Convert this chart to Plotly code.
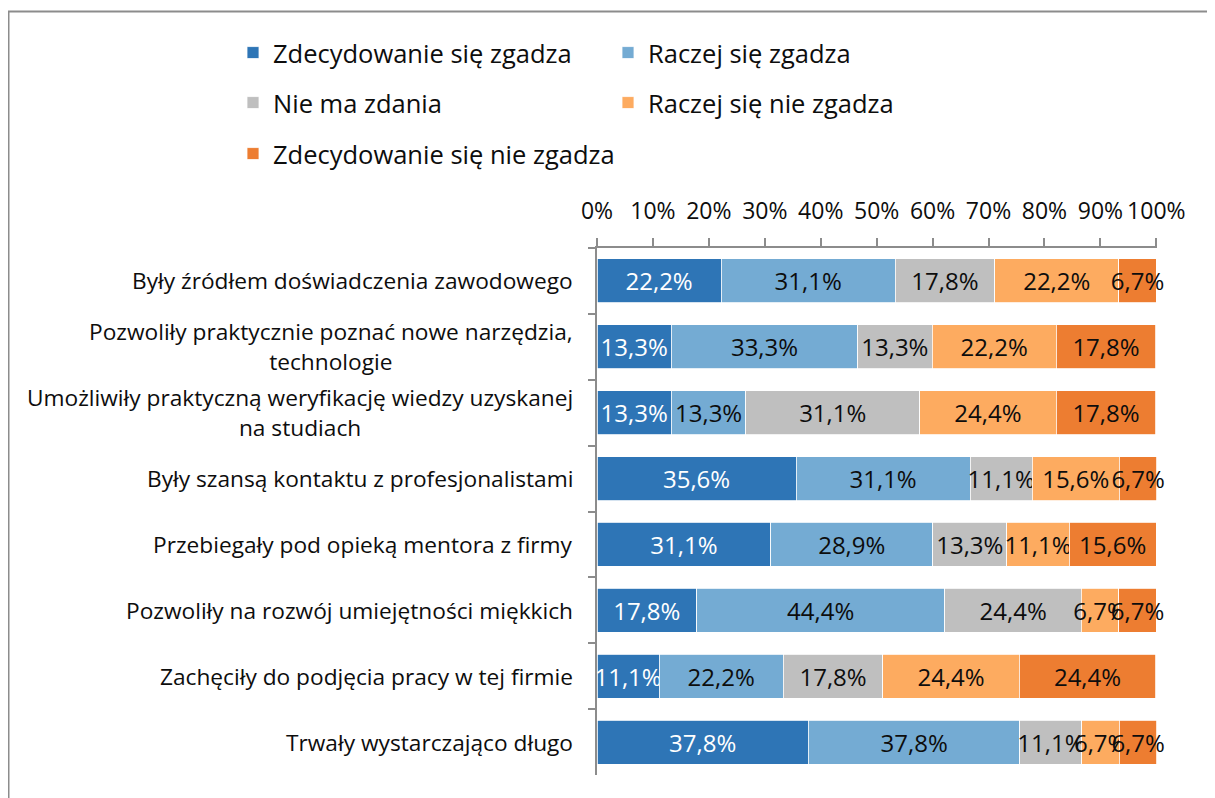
import plotly.graph_objects as go

categories = [
    "Były źródłem doświadczenia zawodowego",
    "Pozwoliły praktycznie poznać nowe narzędzia,<br>technologie",
    "Umożliwiły praktyczną weryfikację wiedzy uzyskanej<br>na studiach",
    "Były szansą kontaktu z profesjonalistami",
    "Przebiegały pod opieką mentora z firmy",
    "Pozwoliły na rozwój umiejętności miękkich",
    "Zachęciły do podjęcia pracy w tej firmie",
    "Trwały wystarczająco długo",
]

series_names = [
    "Zdecydowanie się zgadza",
    "Raczej się zgadza",
    "Nie ma zdania",
    "Raczej się nie zgadza",
    "Zdecydowanie się nie zgadza",
]

zdecydowanie_zgadza = [22.2, 13.3, 13.3, 35.6, 31.1, 17.8, 11.1, 37.8]
raczej_zgadza = [31.1, 33.3, 13.3, 31.1, 28.9, 44.4, 22.2, 37.8]
nie_ma_zdania = [17.8, 13.3, 31.1, 11.1, 13.3, 24.4, 17.8, 11.1]
raczej_nie_zgadza = [22.2, 22.2, 24.4, 15.6, 11.1, 6.7, 24.4, 6.7]
zdecydowanie_nie_zgadza = [6.7, 17.8, 17.8, 6.7, 15.6, 6.7, 24.4, 6.7]

tick_values = [0, 10, 20, 30, 40, 50, 60, 70, 80, 90, 100]
tick_labels = [f"{v}%" for v in tick_values]

series_values = [zdecydowanie_zgadza, raczej_zgadza, nie_ma_zdania,
                 raczej_nie_zgadza, zdecydowanie_nie_zgadza]
colors = ["#2E75B6", "#74ABD3", "#BFBFBF", "#FDAB60", "#ED7D31"]
text_colors = ["#FFFFFF", "#0d0d0d", "#0d0d0d", "#0d0d0d", "#0d0d0d"]
legend_ids = ["legend", "legend2", "legend3", "legend4", "legend5"]

FONT = "Open Sans"
TXT = "#0d0d0d"
GRID = "#8c8c8c"

# page body has an 8px margin: shift the figure so the plot area lands at
# x 597..1157, y 248..775 of the window
OFF = 8
PX0, PX1, PY0, PY1 = 597, 1157, 248, 775
PW, PH = PX1 - PX0, PY1 - PY0

fig = go.Figure()
for name, vals, col, tcol, lg in zip(series_names, series_values, colors, text_colors, legend_ids):
    fig.add_trace(go.Bar(
        y=categories, x=vals, name=name, orientation="h",
        marker=dict(color=col, line=dict(color="white", width=0.8)),
        texttemplate="%{x:.1f}%", textposition="inside",
        insidetextanchor="middle", textangle=0, constraintext="none",
        textfont=dict(color=tcol, size=24, family=FONT),
        cliponaxis=False, legend=lg, hoverinfo="x+name",
    ))


def py(v):
    return (PY1 - v) / PH


def px(v):
    return (v - PX0) / PW


# category labels (centered multi-line, right aligned block)
for cat in categories:
    fig.add_annotation(
        x=px(575), xref="paper", y=cat, yref="y", text=cat,
        xanchor="right", yanchor="middle", align="center", showarrow=False,
        font=dict(size=22.7, family=FONT, color=TXT),
    )

legend_pos = [(px(233), py(53)), (px(608), py(53)), (px(233), py(103)),
              (px(608), py(103)), (px(233), py(154))]
legend_layout = {}
for lg, (lx, ly) in zip(legend_ids, legend_pos):
    legend_layout[lg] = dict(
        x=lx, y=ly, xanchor="left", yanchor="middle",
        font=dict(size=25.5, family=FONT, color=TXT),
        bgcolor="rgba(0,0,0,0)", borderwidth=0, itemwidth=30,
    )

fig.update_layout(
    width=1215, height=798,
    margin=dict(l=PX0 - OFF, r=1215 + OFF - PX1, t=PY0 - OFF, b=798 + OFF - PY1),
    barmode="stack", bargap=0.333,
    plot_bgcolor="white", paper_bgcolor="white",
    separators=", ",
    uniformtext=dict(minsize=24, mode="show"),
    font=dict(family=FONT, color=TXT),
    showlegend=True,
    **legend_layout,
)

fig.update_xaxes(
    side="top", range=[0, 100.12], tickmode="array", tickvals=tick_values, ticktext=tick_labels,
    tickangle=0,
    showgrid=False, zeroline=False, showline=True, linecolor=GRID, linewidth=1.5,
    ticks="outside", ticklen=8, tickcolor=GRID, tickwidth=1.5,
    tickfont=dict(size=23, family=FONT, color=TXT), ticklabelstandoff=10,
)
fig.update_yaxes(
    autorange="reversed", showticklabels=False, showgrid=False, zeroline=False,
    showline=True, linecolor=GRID, linewidth=1.5,
    ticks="outside", tickson="boundaries", ticklen=7, tickcolor=GRID, tickwidth=1.5,
)

# outer chart border
fig.add_shape(type="rect", xref="paper", yref="paper",
              x0=px(8.5), x1=px(1240), y0=py(830), y1=py(11.5),
              line=dict(color=GRID, width=2), fillcolor="rgba(0,0,0,0)", layer="below")

fig.write_html("out.html")
